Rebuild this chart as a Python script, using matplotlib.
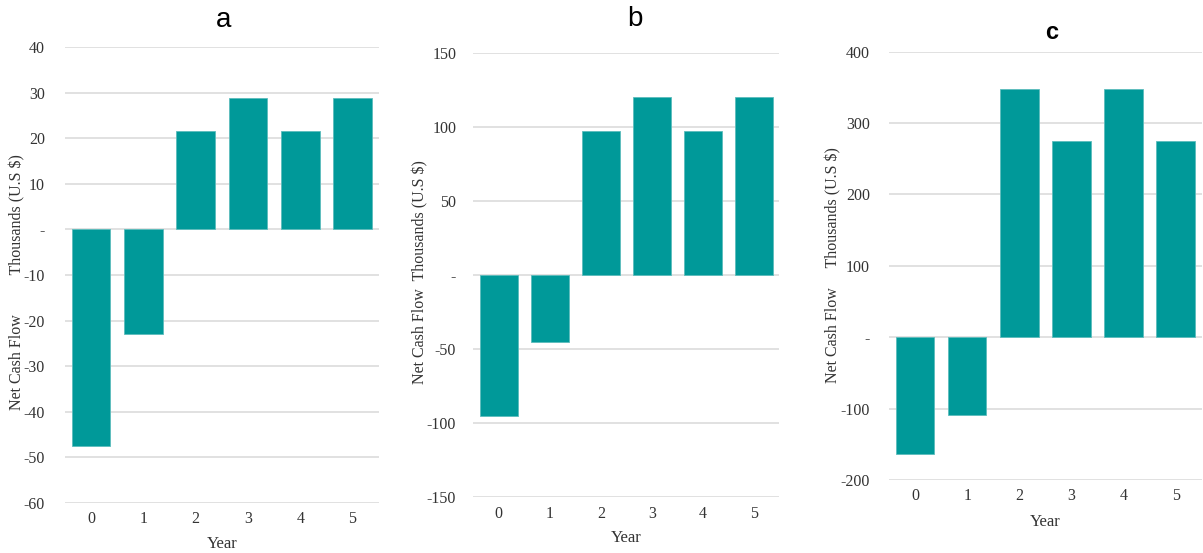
import matplotlib.pyplot as plt

# Net cash flow per year, thousands of U.S $
years = [0, 1, 2, 3, 4, 5]
cash_a = [-47.5, -23.0, 21.6, 28.8, 21.6, 28.8]
cash_b = [-94.8, -44.9, 97.0, 120.0, 97.0, 120.0]
cash_c = [-163.0, -108.5, 348.0, 275.3, 348.0, 275.3]

ticks_a = [-60, -50, -40, -30, -20, -10, 0, 10, 20, 30, 40]
ticks_b = [-150, -100, -50, 0, 50, 100, 150]
ticks_c = [-200, -100, 0, 100, 200, 300, 400]

bar_color = '#009999'
grid_color = '#d9d9d9'
text_color = '#333333'
serif = 'Liberation Serif'
sans = 'Liberation Sans'

fig = plt.figure(figsize=(12.03, 5.53), dpi=100)

panels = [
    # rect, values, ticks, title, title pos, title style, ylabel, ylabel pos, ytick pad, xlabel y
    ([0.0540, 0.0910, 0.2608, 0.8235], cash_a, ticks_a, 'a', (0.505, 1.061), (20, 'normal'),
     'Net Cash Flow          Thousands (U.S $)', (-0.153, 0.484), 14.4, -0.090),
    ([0.3934, 0.1007, 0.2544, 0.8040], cash_b, ticks_b, 'b', (0.528, 1.075), (20, 'normal'),
     'Net Cash Flow  Thousands (U.S $)', (-0.174, 0.507), 12.3, -0.092),
    ([0.7390, 0.1320, 0.2599, 0.7745], cash_c, ticks_c, 'c', (0.520, 1.044), (17, 'bold'),
     'Net Cash Flow     Thousands (U.S $)', (-0.178, 0.501), 13.7, -0.097),
]

for rect, vals, ticks, title, tpos, tstyle, ylab, ypos, ypad, xlab_y in panels:
    ax = fig.add_axes(rect)
    ax.bar(years, vals, width=0.74, color=bar_color, edgecolor='#5cbcbc', linewidth=0.6, zorder=3)
    ax.set_xlim(-0.5, 5.5)
    ax.set_ylim(ticks[0], ticks[-1])
    ax.set_yticks(ticks)
    ax.set_yticklabels(['-' if t == 0 else str(t) for t in ticks])
    ax.set_xticks(years)
    ax.set_xticklabels([str(y) for y in years])
    ax.grid(axis='y', color=grid_color, linewidth=1.1, zorder=0)
    ax.set_axisbelow(True)
    for s in ax.spines.values():
        s.set_visible(False)
    ax.tick_params(axis='both', length=0, labelsize=11.5, labelcolor=text_color)
    ax.tick_params(axis='y', pad=ypad)
    ax.tick_params(axis='x', pad=6)
    for lab in ax.get_xticklabels() + ax.get_yticklabels():
        lab.set_fontfamily(serif)

    ax.text(tpos[0], tpos[1], title, transform=ax.transAxes, ha='center', va='center',
            fontsize=tstyle[0], fontweight=tstyle[1], family=sans, color='black')

    ax.set_ylabel(ylab, fontsize=11.5, family=serif, color=text_color, va='center')
    ax.yaxis.set_label_coords(ypos[0], ypos[1])
    ax.set_xlabel('Year', fontsize=12, family=serif, color=text_color, va='center')
    ax.xaxis.set_label_coords(0.5, xlab_y)

plt.savefig('out.png', dpi=100)
